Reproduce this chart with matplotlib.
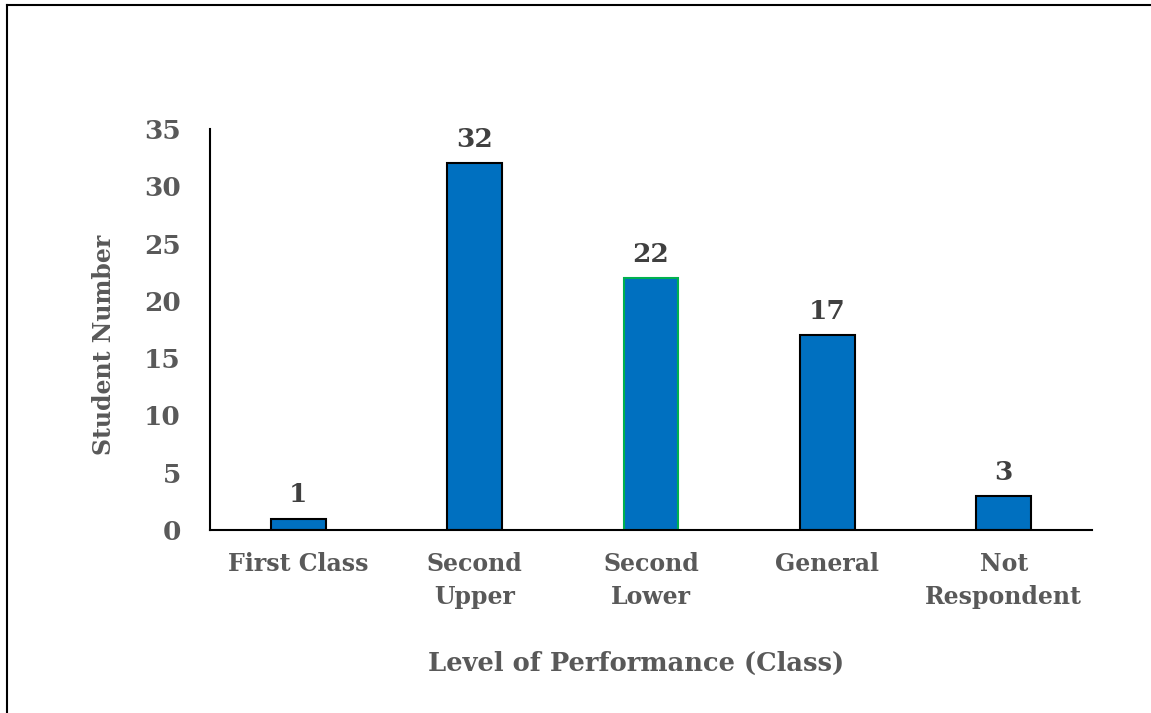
import matplotlib.pyplot as plt

# Data
categories = ['First Class', 'Second\nUpper', 'Second\nLower', 'General', 'Not\nRespondent']
students = [1, 32, 22, 17, 3]
edge_colors = ['black', 'black', '#00B050', 'black', 'black']

text_gray = '#595959'
plt.rcParams['font.family'] = ['DejaVu Serif']
plt.rcParams['font.weight'] = 'bold'
plt.rcParams['axes.labelweight'] = 'bold'

fig = plt.figure(figsize=(11.51, 7.13), dpi=100)
ax = fig.add_axes([210 / 1151, 1 - 530 / 713, 882 / 1151, 401 / 713])

x = range(len(categories))
bars = ax.bar(x, students, width=0.31, color='#0070C0',
              edgecolor=edge_colors, linewidth=1.5)

# value labels above the bars
for xi, v in zip(x, students):
    ax.annotate(str(v), (xi, v), xytext=(0, 8), textcoords='offset points',
                ha='center', va='bottom', fontsize=19, fontweight='bold',
                color='#404040')

ax.set_xlim(-0.5, len(categories) - 0.5)
ax.set_ylim(0, 35)
ax.set_yticks(range(0, 36, 5))
ax.set_xticks(list(x))
ax.set_xticklabels(categories, fontsize=17, color=text_gray, linespacing=1.45)
ax.tick_params(axis='y', labelsize=19, labelcolor=text_gray, length=0, pad=21)
ax.tick_params(axis='x', length=0, pad=16)

ax.spines['top'].set_visible(False)
ax.spines['right'].set_visible(False)
ax.spines['left'].set_linewidth(1.5)
ax.spines['bottom'].set_linewidth(1.5)

ax.set_ylabel('Student Number', fontsize=17, color=text_gray, labelpad=20)
ax.yaxis.label.set_y(0.461)
ax.set_xlabel('Level of Performance (Class)', fontsize=18.5, color=text_gray, labelpad=30)
ax.xaxis.label.set_x(0.483)

# outer frame (top and left edges visible in the original)
fig.add_artist(plt.Line2D([7 / 1151, 1], [1 - 5 / 713, 1 - 5 / 713], color='black', lw=1.5))
fig.add_artist(plt.Line2D([7 / 1151, 7 / 1151], [0, 1 - 5 / 713], color='black', lw=1.5))

fig.savefig('out.png', dpi=100)
